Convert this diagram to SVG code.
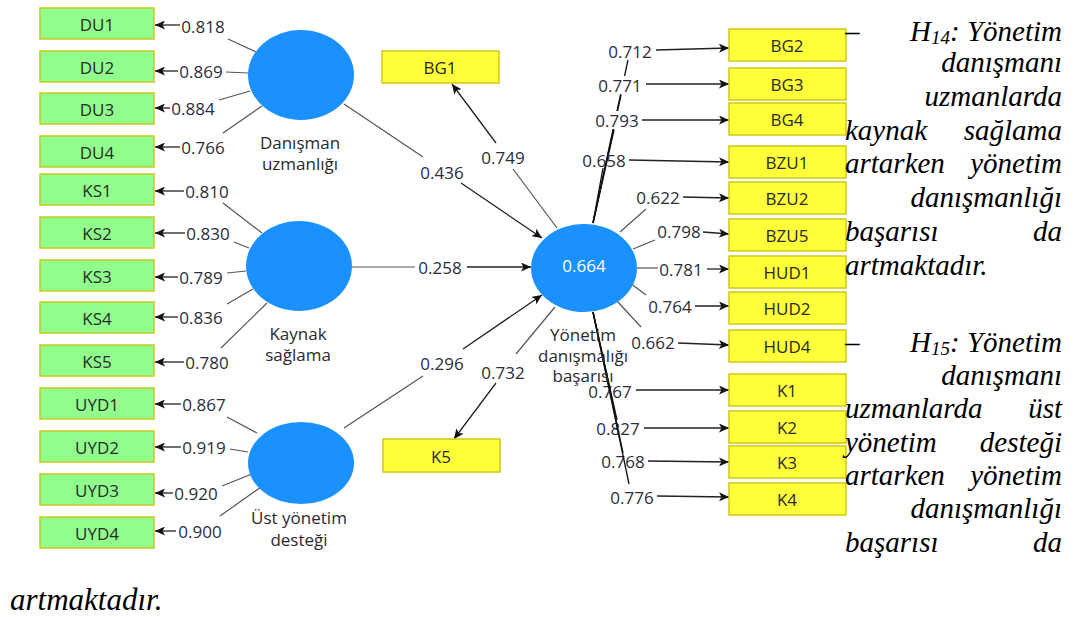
<svg xmlns="http://www.w3.org/2000/svg" width="1074" height="617" viewBox="0 0 1074 617">
<defs>
<marker id="ah" markerUnits="userSpaceOnUse" markerWidth="11" markerHeight="9" refX="10" refY="4.5" orient="auto">
<path d="M0,0 L10,4.5 L0,9 L2.5,4.5 Z" fill="#111"/>
</marker>
<style>
.gbox{fill:#90FF8C;stroke:#C8C81E;stroke-width:1.5}
.ybox{fill:#FFFF3A;stroke:#D0C81A;stroke-width:1.5}
.blt{font-family:"Open Sans","Noto Sans",sans-serif;font-size:17px;fill:#2a2a2a;text-anchor:middle;dominant-baseline:central}
.num{font-family:"Open Sans","Noto Sans",sans-serif;font-size:17px;fill:#2b2d3c;text-anchor:middle;dominant-baseline:central}
.lv{fill:#1B91FF}
.gl{stroke:#555;stroke-width:1.2;fill:none}
.ar{stroke:#222;stroke-width:1.3;fill:none;marker-end:url(#ah)}
.bk{stroke:#111;stroke-width:1.3;fill:none}
.tx{font-family:"Liberation Serif","Times New Roman",serif;font-style:italic;font-size:29px;fill:#000}
.e{text-anchor:end}
.sb{font-size:19px}
</style>
</defs>
<rect width="1074" height="617" fill="#fff"/>

<g id="connectors">
<line class="gl" x1="256" y1="52" x2="228" y2="39"/><line class="ar" x1="180" y1="25" x2="155" y2="25"/>
<line class="gl" x1="248" y1="73" x2="226" y2="72"/><line class="ar" x1="178" y1="71" x2="155" y2="71"/>
<line class="gl" x1="250" y1="91" x2="219" y2="100"/><line class="ar" x1="170" y1="108" x2="155" y2="108"/>
<line class="gl" x1="262" y1="106" x2="223" y2="133"/><line class="ar" x1="180" y1="147" x2="155" y2="147"/>
<line class="gl" x1="262" y1="233" x2="223" y2="203"/><line class="ar" x1="184" y1="191" x2="155" y2="191"/>
<line class="gl" x1="249" y1="248" x2="234" y2="242"/><line class="ar" x1="185" y1="233" x2="155" y2="233"/>
<line class="gl" x1="246" y1="271" x2="227" y2="273"/><line class="ar" x1="178" y1="277" x2="155" y2="277"/>
<line class="gl" x1="253" y1="289" x2="227" y2="304"/><line class="ar" x1="178" y1="317" x2="155" y2="317"/>
<line class="gl" x1="267" y1="303" x2="221" y2="348"/><line class="ar" x1="184" y1="362" x2="155" y2="362"/>
<line class="gl" x1="257" y1="433" x2="227" y2="417"/><line class="ar" x1="181" y1="404" x2="155" y2="404"/>
<line class="gl" x1="248" y1="452" x2="230" y2="449"/><line class="ar" x1="181" y1="447" x2="155" y2="447"/>
<line class="gl" x1="252" y1="474" x2="222" y2="486"/><line class="ar" x1="173" y1="493" x2="155" y2="493"/>
<line class="gl" x1="261" y1="487" x2="220" y2="516"/><line class="ar" x1="176" y1="531" x2="155" y2="531"/>
<line class="gl" x1="344" y1="104" x2="423" y2="157"/><line class="ar" x1="461" y1="183" x2="542" y2="238"/>
<line class="gl" x1="352" y1="267" x2="415" y2="267"/><line class="ar" x1="467" y1="267" x2="531" y2="267"/>
<line class="gl" x1="344" y1="428" x2="423" y2="376"/><line class="ar" x1="463" y1="349" x2="542" y2="295"/>
<line class="gl" x1="557" y1="228" x2="513" y2="169"/><line class="ar" x1="496" y1="143" x2="452" y2="84"/>
<line class="gl" x1="555" y1="307" x2="516" y2="354"/><line class="ar" x1="496" y1="383" x2="454" y2="439"/>
<line class="bk" x1="593" y1="223" x2="628" y2="60"/>
<line class="bk" x1="593" y1="223" x2="621" y2="95"/>
<line class="bk" x1="593" y1="223" x2="614" y2="130"/>
<line class="bk" x1="593" y1="223" x2="603" y2="168"/>
<rect x="606" y="42" width="48" height="18" fill="#fff"/>
<rect x="596" y="76" width="48" height="18" fill="#fff"/>
<rect x="593" y="111" width="48" height="18" fill="#fff"/>
<line class="ar" x1="656" y1="50" x2="729" y2="48"/>
<line class="ar" x1="646" y1="84" x2="729" y2="84"/>
<line class="ar" x1="642" y1="120" x2="729" y2="120"/>
<line class="ar" x1="629" y1="160" x2="729" y2="162"/>
<line class="gl" x1="620" y1="232" x2="646" y2="209"/><line class="ar" x1="683" y1="197" x2="729" y2="198"/>
<line class="gl" x1="633" y1="249" x2="655" y2="240"/><line class="ar" x1="703" y1="232" x2="729" y2="234"/>
<line class="gl" x1="637" y1="268" x2="658" y2="268"/><line class="ar" x1="707" y1="269" x2="729" y2="269"/>
<line class="gl" x1="630" y1="283" x2="646" y2="295"/><line class="ar" x1="695" y1="306" x2="729" y2="306"/>
<line class="gl" x1="617" y1="301" x2="641" y2="327"/><line class="ar" x1="678" y1="343" x2="729" y2="345"/>
<line class="ar" x1="636" y1="390" x2="729" y2="390"/>
<line class="ar" x1="644" y1="428" x2="729" y2="428"/>
<line class="ar" x1="648" y1="461" x2="729" y2="462"/>
<line class="ar" x1="657" y1="496" x2="729" y2="497"/>
</g>

<g id="path-labels">
<text class="num" x="203" y="26">0.818</text>
<text class="num" x="201" y="71">0.869</text>
<text class="num" x="193" y="108">0.884</text>
<text class="num" x="203" y="147">0.766</text>
<text class="num" x="207" y="191">0.810</text>
<text class="num" x="208" y="233">0.830</text>
<text class="num" x="201" y="277">0.789</text>
<text class="num" x="201" y="317">0.836</text>
<text class="num" x="207" y="362">0.780</text>
<text class="num" x="204" y="404">0.867</text>
<text class="num" x="204" y="447">0.919</text>
<text class="num" x="196" y="493">0.920</text>
<text class="num" x="200" y="531">0.900</text>
<text class="num" x="442" y="172">0.436</text>
<text class="num" x="440" y="267">0.258</text>
<text class="num" x="442" y="363">0.296</text>
<text class="num" x="503" y="157">0.749</text>
<text class="num" x="503" y="372">0.732</text>
<text class="num" x="630" y="51">0.712</text>
<text class="num" x="620" y="85">0.771</text>
<text class="num" x="617" y="120">0.793</text>
<text class="num" x="604" y="160">0.658</text>
<text class="num" x="658" y="197">0.622</text>
<text class="num" x="679" y="231">0.798</text>
<text class="num" x="681" y="269">0.781</text>
<text class="num" x="670" y="306">0.764</text>
<text class="num" x="653" y="342">0.662</text>
<text class="num" x="610" y="391">0.767</text>
<text class="num" x="618" y="428">0.827</text>
<text class="num" x="623" y="461">0.768</text>
<text class="num" x="632" y="497">0.776</text>
</g>

<g id="bottom-cluster">
<line class="bk" x1="593" y1="312" x2="609" y2="385"/>
<line class="bk" x1="593" y1="312" x2="617" y2="420"/>
<line class="bk" x1="593" y1="312" x2="623" y2="453"/>
<line class="bk" x1="593" y1="312" x2="629" y2="484"/>
</g>

<g id="DU1"><rect class="gbox" x="40" y="8" width="114" height="31"/><text class="blt" x="97" y="24">DU1</text></g>
<g id="DU2"><rect class="gbox" x="40" y="51" width="114" height="31"/><text class="blt" x="97" y="67">DU2</text></g>
<g id="DU3"><rect class="gbox" x="40" y="93" width="114" height="31"/><text class="blt" x="97" y="109">DU3</text></g>
<g id="DU4"><rect class="gbox" x="40" y="136" width="114" height="31"/><text class="blt" x="97" y="152">DU4</text></g>
<g id="KS1"><rect class="gbox" x="40" y="174" width="114" height="31"/><text class="blt" x="97" y="190">KS1</text></g>
<g id="KS2"><rect class="gbox" x="40" y="217" width="114" height="31"/><text class="blt" x="97" y="233">KS2</text></g>
<g id="KS3"><rect class="gbox" x="40" y="260" width="114" height="31"/><text class="blt" x="97" y="276">KS3</text></g>
<g id="KS4"><rect class="gbox" x="40" y="302" width="114" height="31"/><text class="blt" x="97" y="318">KS4</text></g>
<g id="KS5"><rect class="gbox" x="40" y="345" width="114" height="31"/><text class="blt" x="97" y="361">KS5</text></g>
<g id="UYD1"><rect class="gbox" x="40" y="388" width="114" height="31"/><text class="blt" x="97" y="404">UYD1</text></g>
<g id="UYD2"><rect class="gbox" x="40" y="431" width="114" height="31"/><text class="blt" x="97" y="447">UYD2</text></g>
<g id="UYD3"><rect class="gbox" x="40" y="474" width="114" height="31"/><text class="blt" x="97" y="490">UYD3</text></g>
<g id="UYD4"><rect class="gbox" x="40" y="517" width="114" height="31"/><text class="blt" x="97" y="533">UYD4</text></g>

<g id="BG1"><rect class="ybox" x="382" y="51" width="117" height="32"/><text class="blt" x="440" y="67">BG1</text></g>
<g id="K5"><rect class="ybox" x="383" y="439" width="117" height="33"/><text class="blt" x="441" y="456">K5</text></g>

<g id="BG2"><rect class="ybox" x="729" y="29" width="117" height="32"/><text class="blt" x="787" y="45">BG2</text></g>
<g id="BG3"><rect class="ybox" x="729" y="68" width="117" height="32"/><text class="blt" x="787" y="84">BG3</text></g>
<g id="BG4"><rect class="ybox" x="729" y="103" width="117" height="32"/><text class="blt" x="787" y="119">BG4</text></g>
<g id="BZU1"><rect class="ybox" x="729" y="146" width="117" height="32"/><text class="blt" x="787" y="162">BZU1</text></g>
<g id="BZU2"><rect class="ybox" x="729" y="182" width="117" height="32"/><text class="blt" x="787" y="198">BZU2</text></g>
<g id="BZU5"><rect class="ybox" x="729" y="219" width="117" height="32"/><text class="blt" x="787" y="235">BZU5</text></g>
<g id="HUD1"><rect class="ybox" x="729" y="256" width="117" height="32"/><text class="blt" x="787" y="272">HUD1</text></g>
<g id="HUD2"><rect class="ybox" x="729" y="292" width="117" height="32"/><text class="blt" x="787" y="308">HUD2</text></g>
<g id="HUD4"><rect class="ybox" x="729" y="330" width="117" height="32"/><text class="blt" x="787" y="346">HUD4</text></g>
<g id="K1"><rect class="ybox" x="729" y="374" width="117" height="32"/><text class="blt" x="787" y="390">K1</text></g>
<g id="K2"><rect class="ybox" x="729" y="411" width="117" height="32"/><text class="blt" x="787" y="427">K2</text></g>
<g id="K3"><rect class="ybox" x="729" y="446" width="117" height="32"/><text class="blt" x="787" y="462">K3</text></g>
<g id="K4"><rect class="ybox" x="729" y="483" width="117" height="32"/><text class="blt" x="787" y="499">K4</text></g>

<g id="danisman-uzmanligi">
<ellipse class="lv" cx="301" cy="75" rx="53" ry="45"/>
<text class="blt" x="300" y="142">Danışman</text>
<text class="blt" x="300" y="163">uzmanlığı</text>
</g>
<g id="kaynak-saglama">
<ellipse class="lv" cx="299" cy="266" rx="53" ry="45"/>
<text class="blt" x="298" y="333">Kaynak</text>
<text class="blt" x="298" y="354">sağlama</text>
</g>
<g id="ust-yonetim-destegi">
<ellipse class="lv" cx="301" cy="463" rx="53" ry="41"/>
<text class="blt" x="299" y="517">Üst yönetim</text>
<text class="blt" x="299" y="539">desteği</text>
</g>
<g id="yonetim-danismaligi-basarisi">
<ellipse class="lv" cx="584" cy="268" rx="53" ry="44"/>
<text class="blt" x="584" y="265" style="fill:#fff">0.664</text>
<text class="blt" x="583" y="334">Yönetim</text>
<text class="blt" x="583" y="355">danışmalığı</text>
<text class="blt" x="583" y="375">başarısı</text>
</g>

<g id="hypothesis-text">
<text class="tx" x="845" y="41">–</text>
<text class="tx e" x="1062" y="41">H<tspan class="sb" dy="3">14</tspan><tspan dy="-3">: Yönetim</tspan></text>
<text class="tx e" x="1062" y="72">danışmanı</text>
<text class="tx e" x="1062" y="106">uzmanlarda</text>
<text class="tx" x="845" y="140">kaynak</text>
<text class="tx e" x="1062" y="140">sağlama</text>
<text class="tx" x="845" y="173">artarken</text>
<text class="tx e" x="1062" y="173">yönetim</text>
<text class="tx e" x="1062" y="207">danışmanlığı</text>
<text class="tx" x="845" y="241">başarısı</text>
<text class="tx e" x="1062" y="241">da</text>
<text class="tx" x="845" y="275">artmaktadır.</text>

<text class="tx" x="845" y="352">–</text>
<text class="tx e" x="1062" y="352">H<tspan class="sb" dy="3">15</tspan><tspan dy="-3">: Yönetim</tspan></text>
<text class="tx e" x="1062" y="385">danışmanı</text>
<text class="tx" x="845" y="418">uzmanlarda</text>
<text class="tx e" x="1062" y="418">üst</text>
<text class="tx" x="845" y="452">yönetim</text>
<text class="tx e" x="1062" y="452">desteği</text>
<text class="tx" x="845" y="485">artarken</text>
<text class="tx e" x="1062" y="485">yönetim</text>
<text class="tx e" x="1062" y="518">danışmanlığı</text>
<text class="tx" x="845" y="552">başarısı</text>
<text class="tx e" x="1062" y="552">da</text>
<text class="tx" x="10" y="610" style="font-size:31px">artmaktadır.</text>
</g>
</svg>
